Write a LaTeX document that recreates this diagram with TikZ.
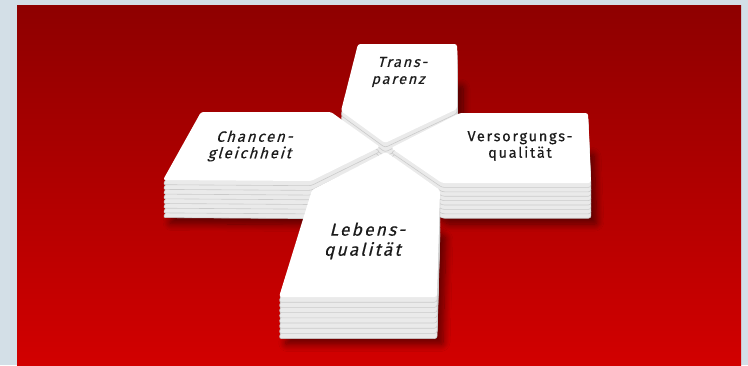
\documentclass[tikz,border=0pt]{standalone}
\usepackage{fontspec}
\setsansfont{Fira Sans}[LetterSpace=12, FakeBold=0.5]
\usetikzlibrary{shadows.blur}

\definecolor{frame}{HTML}{D3DFE7}
\definecolor{redtop}{HTML}{8E0000}
\definecolor{redbot}{HTML}{D20000}
\definecolor{layerfill}{HTML}{EAEAEA}
\definecolor{layeredge}{HTML}{CBCBCB}
\definecolor{ink}{HTML}{1C1C1C}

\tikzset{
  face/.style={fill=white, rounded corners=2.5pt},
  layer/.style={fill=layerfill, draw=layeredge, line width=0.6pt, rounded corners=2.5pt},
  baselayer/.style={layer, blur shadow={shadow xshift=6pt, shadow yshift=-6pt,
      shadow opacity=50, shadow blur radius=7pt, shadow blur steps=10}},
  cardtext/.style={font=\sffamily, text=ink, align=center, inner sep=0pt},
}

% a stack of eight cards: #1 = outline of the top card, #2 = offset between cards
\newcommand\cardstack[2]{%
  \foreach \k in {8,...,1}{%
    \begin{scope}[yshift={-\k*#2}]
      \ifnum\k=8 \path[baselayer] #1; \else \path[layer] #1; \fi
    \end{scope}}%
  \path[face] #1;}

\begin{document}
\begin{tikzpicture}[x=1pt,y=-1pt]
  \useasboundingbox (0,0) rectangle (748,365);
  \fill[frame] (0,0) rectangle (748,365);
  \shade[top color=redtop, bottom color=redbot] (17,5) rectangle (741,365);

  % upper arm
  \cardstack{(358,44) -- (457,44) -- (457,109) -- (385,143) -- (341,111) -- cycle}{4.5}
  % left arm
  \cardstack{(201,112) -- (331,112) -- (380,147) -- (311,181) -- (163,180) -- cycle}{4.7}
  % right arm
  \cardstack{(460,113) -- (588,113) -- (591,183) -- (442,183) -- (391,148) -- cycle}{4.4}
  % lower arm
  \cardstack{(386,152) -- (440,190) -- (437,297) -- (279,297) -- (312,190) -- cycle}{5.2}

  \node[cardtext, font=\sffamily\fontsize{14.5}{17}\selectfont, xslant=0.26]
    (transparenz) at (401,72) {Trans-\\parenz};
  \node[cardtext, font=\sffamily\fontsize{15}{16.5}\selectfont, xslant=0.3]
    (chancen) at (253,146) {Chancen-\\gleichheit};
  \node[cardtext, font=\sffamily\fontsize{14.5}{16.5}\selectfont]
    (versorgung) at (520,146) {Versorgungs-\\qualität};
  \node[cardtext, font=\sffamily\fontsize{17.5}{20}\selectfont, xslant=0.25]
    (leben) at (366,241) {Lebens-\\qualität};
\end{tikzpicture}
\end{document}
